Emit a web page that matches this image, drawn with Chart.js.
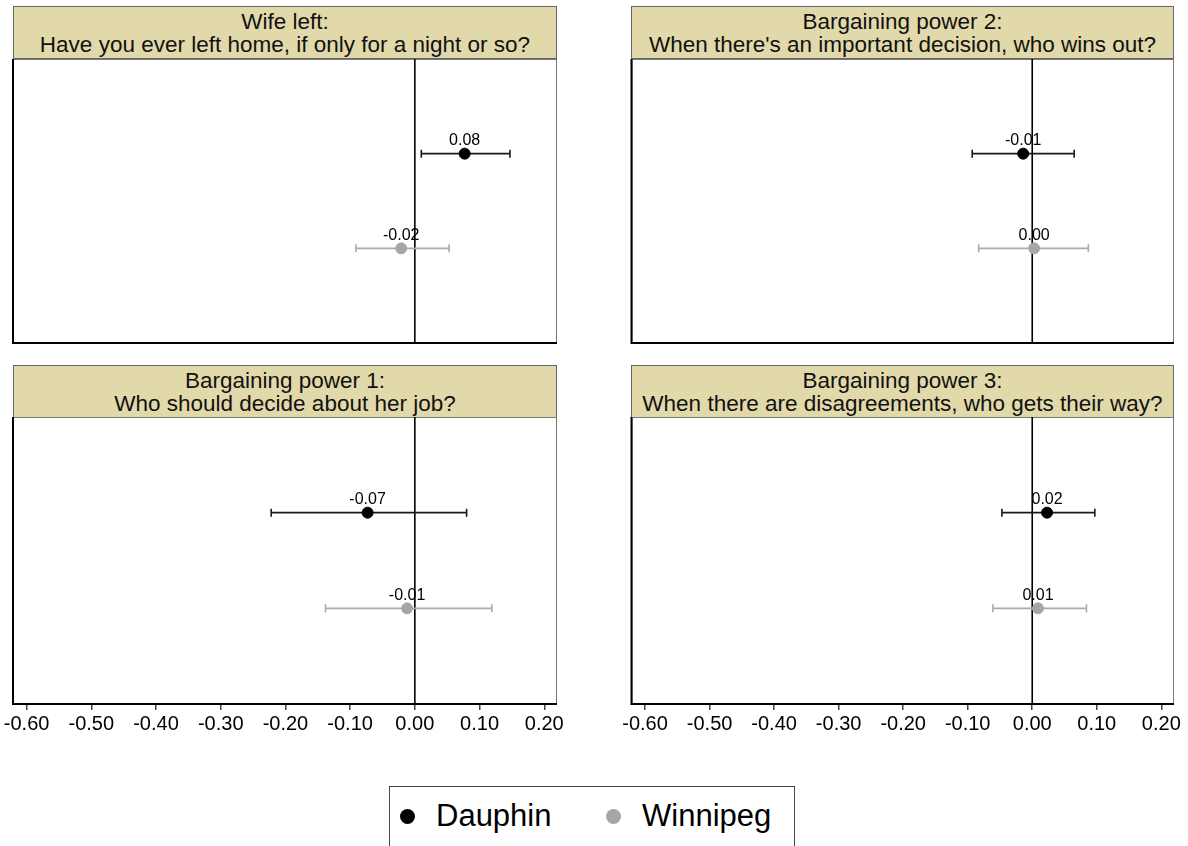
<!DOCTYPE html>
<html>
<head>
<meta charset="utf-8">
<script src="https://cdn.jsdelivr.net/npm/chart.js@4.4.0/dist/chart.umd.min.js"></script>
<style>
  body { margin:0; background:#fff; width:1188px; height:846px; overflow:hidden; position:relative;
         font-family:"Liberation Sans", Arial, sans-serif; }
  .ttl { position:absolute; background:#e2d9ab; border:1px solid #666; box-sizing:border-box;
         text-align:center; font-size:22.5px; line-height:23px; color:#111; padding-top:3px; }
  canvas { position:absolute; }
  #legend { position:absolute; left:389px; top:786px; width:406px; height:66px;
            border:1.5px solid #444; box-sizing:border-box; font-size:31px; color:#000; }
  .dot { position:absolute; width:15px; height:15px; border-radius:50%; }
  .lab { position:absolute; line-height:32px; }
</style>
</head>
<body>
<div id="legend">
  <span class="dot" style="left:10px; top:22px; background:#000;"></span>
  <span class="lab" id="lab0" style="left:46px; top:13px;"></span>
  <span class="dot" style="left:216px; top:22px; background:#a6a6a6;"></span>
  <span class="lab" id="lab1" style="left:252px; top:13px;"></span>
</div>
<script>
// panels: wife left, bargaining power 1, 2, 3
var panelTitles = [
  ["Wife left:", "Have you ever left home, if only for a night or so?"],
  ["Bargaining power 1:", "Who should decide about her job?"],
  ["Bargaining power 2:", "When there's an important decision, who wins out?"],
  ["Bargaining power 3:", "When there are disagreements, who gets their way?"]
];
var seriesNames = ["Dauphin", "Winnipeg"];

var dauphinEst = [0.077, -0.073, -0.014, 0.023];
var dauphinLo  = [0.010, -0.222, -0.093, -0.047];
var dauphinHi  = [0.147,  0.080,  0.065,  0.097];

var winnipegEst = [-0.021, -0.012, 0.003, 0.009];
var winnipegLo  = [-0.091, -0.138, -0.083, -0.061];
var winnipegHi  = [ 0.053,  0.119,  0.087,  0.084];

var tickValues = [-0.6, -0.5, -0.4, -0.3, -0.2, -0.1, 0, 0.1, 0.2];
var xMin = -0.621, xMax = 0.2197;

// where each panel goes on the page
var layout = [
  {left:0,   top:50,  w:580, h:300, pad:{left:13,   right:23, top:9, bottom:7},  axis:false, tl:13,  tw:544, tt:6},
  {left:0,   top:408, w:580, h:340, pad:{left:13,   right:23, top:9, bottom:10}, axis:true,  tl:13,  tw:544, tt:365},
  {left:600, top:50,  w:588, h:300, pad:{left:31.5, right:14, top:9, bottom:7},  axis:false, tl:631, tw:543, tt:6},
  {left:600, top:408, w:588, h:340, pad:{left:31.5, right:14, top:9, bottom:10}, axis:true,  tl:631, tw:543, tt:365}
];

document.getElementById("lab0").textContent = seriesNames[0];
document.getElementById("lab1").textContent = seriesNames[1];

var barPlugin = {
  id: "bars",
  beforeDatasetsDraw: function(chart) {
    var ctx = chart.ctx, a = chart.chartArea, x = chart.scales.x, y = chart.scales.y;
    ctx.save();
    // plot frame
    ctx.strokeStyle = "#777"; ctx.lineWidth = 1;
    ctx.strokeRect(a.left + 0.5, a.top + 0.5, a.width - 1, a.height - 1);
    ctx.strokeStyle = "#000"; ctx.lineWidth = 2;
    ctx.beginPath();
    ctx.moveTo(a.left, a.top); ctx.lineTo(a.left, a.bottom); ctx.lineTo(a.right, a.bottom);
    ctx.stroke();
    // zero line
    var x0 = x.getPixelForValue(0);
    ctx.lineWidth = 1.6;
    ctx.beginPath(); ctx.moveTo(x0, a.top); ctx.lineTo(x0, a.bottom); ctx.stroke();
    // confidence intervals
    chart.data.datasets.forEach(function(ds) {
      ctx.strokeStyle = ds.barColor; ctx.lineWidth = 1.6;
      ds.data.forEach(function(p) {
        var py = y.getPixelForValue(p.y);
        var l = x.getPixelForValue(p.lo), r = x.getPixelForValue(p.hi);
        ctx.beginPath();
        ctx.moveTo(l, py); ctx.lineTo(r, py);
        ctx.moveTo(l, py - 4); ctx.lineTo(l, py + 4);
        ctx.moveTo(r, py - 4); ctx.lineTo(r, py + 4);
        ctx.stroke();
      });
    });
    ctx.restore();
  },
  afterDatasetsDraw: function(chart) {
    var ctx = chart.ctx, x = chart.scales.x, y = chart.scales.y;
    ctx.save();
    ctx.fillStyle = "#000";
    ctx.font = "16px 'Liberation Sans', Arial, sans-serif";
    ctx.textAlign = "center"; ctx.textBaseline = "middle";
    chart.data.datasets.forEach(function(ds) {
      ds.data.forEach(function(p) {
        ctx.fillText(p.x.toFixed(2), x.getPixelForValue(p.x), y.getPixelForValue(p.y) - 13);
      });
    });
    ctx.restore();
  }
};

for (var i = 0; i < 4; i++) {
  var L = layout[i];
  var t = document.createElement("div");
  t.className = "ttl";
  t.style.left = L.tl + "px"; t.style.top = L.tt + "px";
  t.style.width = L.tw + "px"; t.style.height = "53px";
  t.innerHTML = panelTitles[i][0] + "<br>" + panelTitles[i][1];
  document.body.appendChild(t);

  var c = document.createElement("canvas");
  c.width = L.w; c.height = L.h;
  c.style.left = L.left + "px"; c.style.top = L.top + "px";
  document.body.appendChild(c);

  new Chart(c.getContext("2d"), {
    type: "scatter",
    data: {
      datasets: [{
        label: seriesNames[0],
        data: [{x: dauphinEst[i], y: 2, lo: dauphinLo[i], hi: dauphinHi[i]}],
        backgroundColor: "#000", borderColor: "#000", barColor: "#1a1a1a",
        pointRadius: 5.5, pointHoverRadius: 5.5
      }, {
        label: seriesNames[1],
        data: [{x: winnipegEst[i], y: 1, lo: winnipegLo[i], hi: winnipegHi[i]}],
        backgroundColor: "#a6a6a6", borderColor: "#a6a6a6", barColor: "#ababab",
        pointRadius: 5.5, pointHoverRadius: 5.5
      }]
    },
    options: {
      responsive: false,
      animation: false,
      layout: { padding: L.pad },
      plugins: { legend: { display: false }, tooltip: { enabled: false } },
      scales: {
        x: {
          type: "linear", min: xMin, max: xMax, display: L.axis,
          afterBuildTicks: function(s) { s.ticks = tickValues.map(function(v) { return {value: v}; }); },
          ticks: {
            callback: function(v) { return Number(v).toFixed(2); },
            font: { family: "'Liberation Sans', Arial, sans-serif", size: 20 },
            color: "#000", padding: 2, autoSkip: false, maxRotation: 0
          },
          grid: { drawOnChartArea: false, drawTicks: true, tickLength: 6, color: "#444", lineWidth: 1.5 },
          border: { display: false }
        },
        y: { min: 0, max: 3, display: false }
      }
    },
    plugins: [barPlugin]
  });
}
</script>
</body>
</html>
